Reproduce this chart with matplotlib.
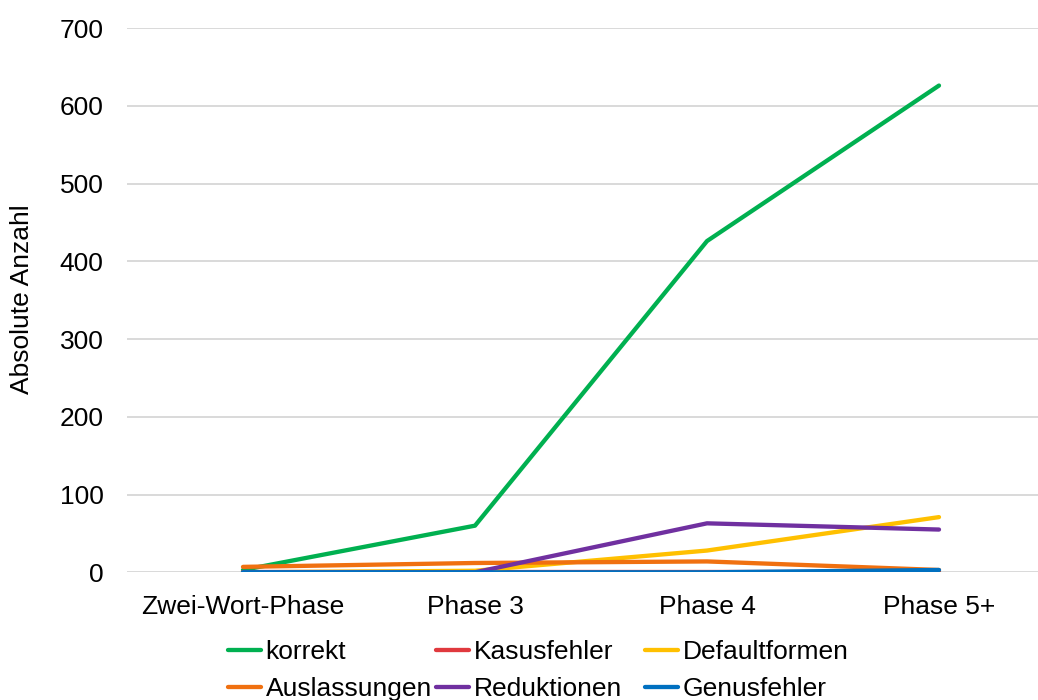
import matplotlib.pyplot as plt

# --- DATEN ---
phasen = ["Zwei-Wort-Phase", "Phase 3", "Phase 4", "Phase 5+"]
korrekt = [3, 60, 426, 626]
kasusfehler = [0, 0, 0, 0]
defaultformen = [0, 2, 28, 71]
auslassungen = [7, 12, 14, 3]
reduktionen = [0, 0, 63, 55]
genusfehler = [0, 0, 0, 3]

serien = [
    ("korrekt", korrekt, "#00B050"),
    ("Kasusfehler", kasusfehler, "#E0393E"),
    ("Defaultformen", defaultformen, "#FFC000"),
    ("Auslassungen", auslassungen, "#F07010"),
    ("Reduktionen", reduktionen, "#7030A0"),
    ("Genusfehler", genusfehler, "#0070C0"),
]

plt.rcParams['font.family'] = ['Liberation Sans', 'DejaVu Sans']

fig = plt.figure(figsize=(10.38, 7), dpi=100)
# Plotbereich läuft rechts über den Bildrand hinaus (wie im Original)
ax = fig.add_axes([127 / 1038, 0.1824, 928 / 1038, 0.7776])

x = range(len(phasen))
for name, werte, farbe in serien:
    ax.plot(x, werte, color=farbe, linewidth=3.1, label=name,
            solid_capstyle='round', solid_joinstyle='round')

ax.set_xlim(-0.5, 3.5)
ax.set_ylim(0, 700)
ax.set_yticks(range(0, 701, 100))
ax.set_xticks(list(x))
ax.set_xticklabels(phasen)
ax.tick_params(axis='both', length=0, labelsize=19)
ax.tick_params(axis='x', pad=16)
ax.tick_params(axis='y', pad=17)
ax.grid(axis='y', color='#D9D9D9', linewidth=1.4)
ax.set_axisbelow(True)
for s in ax.spines.values():
    s.set_visible(False)

fig.text(22 / 1038, 1 - 299 / 700, "Absolute Anzahl", rotation=90,
         ha='center', va='center', fontsize=19)

# Legende: drei gleich breite Spalten, zeilenweise gefuellt (wie Excel)
handles, labels = ax.get_legend_handles_labels()
spalten_x = [228, 436, 645]
for j, xpos in enumerate(spalten_x):
    fig.legend([handles[j], handles[j + 3]], [labels[j], labels[j + 3]],
               loc='upper left', bbox_to_anchor=(xpos / 1038, 1 - 640 / 700),
               ncol=1, frameon=False, fontsize=19, handlelength=1.25,
               handletextpad=0.18, labelspacing=0.5,
               borderpad=0, borderaxespad=0)

fig.savefig("out.png", dpi=100)
